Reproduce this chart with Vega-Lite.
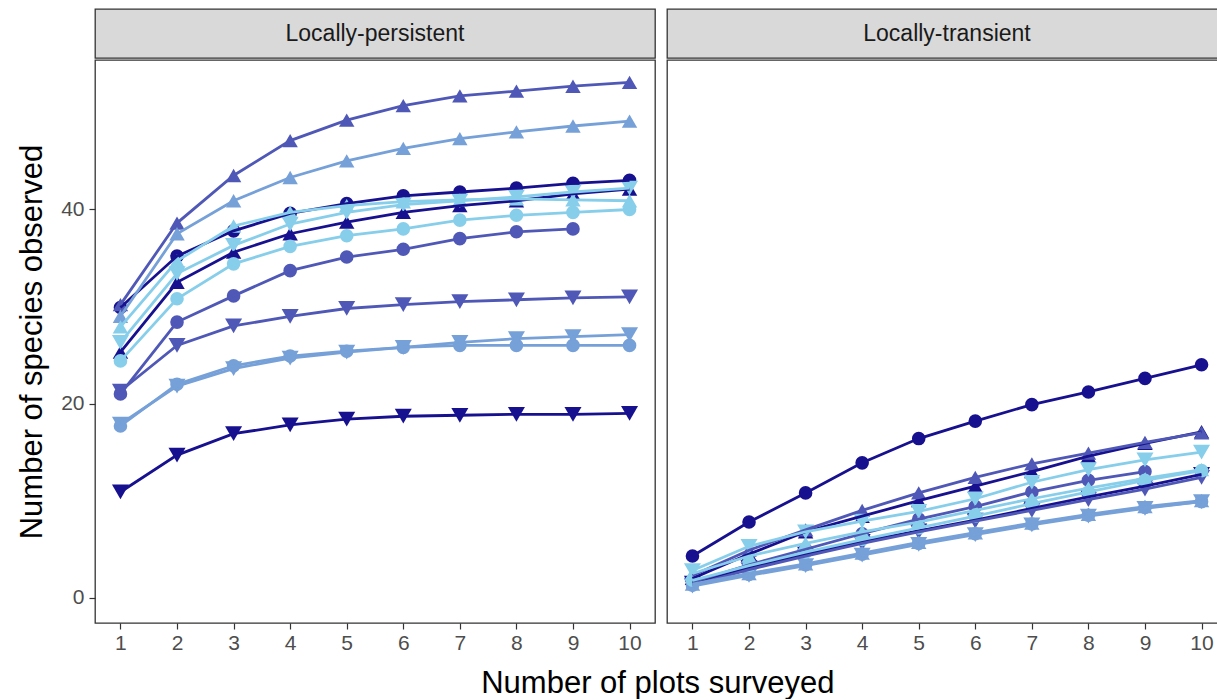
{
  "$schema": "https://vega.github.io/schema/vega-lite/v6.json",
  "padding": {"left": 15, "top": 8, "right": 0, "bottom": 0},
  "background": "white",
  "config": {
    "font": "Liberation Sans",
    "concat": {"spacing": 10},
    "axis": {"grid": false, "domain": false, "tickColor": "#333333", "tickSize": 6, "tickWidth": 1.2, "labelColor": "#4d4d4d", "labelFontSize": 21, "labelPadding": 5, "titleFontWeight": "normal", "titleColor": "black", "titleFontSize": 31},
    "axisX": {"labelPadding": 3}
  },
  "title": {"text": "Number of plots surveyed", "orient": "bottom", "anchor": "middle", "fontSize": 31, "fontWeight": "normal", "color": "black", "offset": 15, "dx": 36},
  "data": {"values": [
    {"p":"P","g":"NC","c":"N","s":"circle","x":1,"y":29.9},{"p":"P","g":"NC","c":"N","s":"circle","x":2,"y":35.2},{"p":"P","g":"NC","c":"N","s":"circle","x":3,"y":37.8},{"p":"P","g":"NC","c":"N","s":"circle","x":4,"y":39.6},{"p":"P","g":"NC","c":"N","s":"circle","x":5,"y":40.6},{"p":"P","g":"NC","c":"N","s":"circle","x":6,"y":41.4},{"p":"P","g":"NC","c":"N","s":"circle","x":7,"y":41.8},{"p":"P","g":"NC","c":"N","s":"circle","x":8,"y":42.2},{"p":"P","g":"NC","c":"N","s":"circle","x":9,"y":42.7},{"p":"P","g":"NC","c":"N","s":"circle","x":10,"y":43.0},
    {"p":"P","g":"NU","c":"N","s":"up","x":1,"y":25.3},{"p":"P","g":"NU","c":"N","s":"up","x":2,"y":32.5},{"p":"P","g":"NU","c":"N","s":"up","x":3,"y":35.6},{"p":"P","g":"NU","c":"N","s":"up","x":4,"y":37.5},{"p":"P","g":"NU","c":"N","s":"up","x":5,"y":38.7},{"p":"P","g":"NU","c":"N","s":"up","x":6,"y":39.7},{"p":"P","g":"NU","c":"N","s":"up","x":7,"y":40.4},{"p":"P","g":"NU","c":"N","s":"up","x":8,"y":40.9},{"p":"P","g":"NU","c":"N","s":"up","x":9,"y":41.6},{"p":"P","g":"NU","c":"N","s":"up","x":10,"y":42.1},
    {"p":"P","g":"ND","c":"N","s":"down","x":1,"y":10.9},{"p":"P","g":"ND","c":"N","s":"down","x":2,"y":14.7},{"p":"P","g":"ND","c":"N","s":"down","x":3,"y":16.9},{"p":"P","g":"ND","c":"N","s":"down","x":4,"y":17.8},{"p":"P","g":"ND","c":"N","s":"down","x":5,"y":18.4},{"p":"P","g":"ND","c":"N","s":"down","x":6,"y":18.7},{"p":"P","g":"ND","c":"N","s":"down","x":7,"y":18.8},{"p":"P","g":"ND","c":"N","s":"down","x":8,"y":18.9},{"p":"P","g":"ND","c":"N","s":"down","x":9,"y":18.9},{"p":"P","g":"ND","c":"N","s":"down","x":10,"y":19.0},
    {"p":"P","g":"MC","c":"M","s":"circle","x":1,"y":21.0},{"p":"P","g":"MC","c":"M","s":"circle","x":2,"y":28.4},{"p":"P","g":"MC","c":"M","s":"circle","x":3,"y":31.1},{"p":"P","g":"MC","c":"M","s":"circle","x":4,"y":33.7},{"p":"P","g":"MC","c":"M","s":"circle","x":5,"y":35.1},{"p":"P","g":"MC","c":"M","s":"circle","x":6,"y":35.9},{"p":"P","g":"MC","c":"M","s":"circle","x":7,"y":37.0},{"p":"P","g":"MC","c":"M","s":"circle","x":8,"y":37.7},{"p":"P","g":"MC","c":"M","s":"circle","x":9,"y":38.0},
    {"p":"P","g":"MU","c":"M","s":"up","x":1,"y":30.2},{"p":"P","g":"MU","c":"M","s":"up","x":2,"y":38.6},{"p":"P","g":"MU","c":"M","s":"up","x":3,"y":43.5},{"p":"P","g":"MU","c":"M","s":"up","x":4,"y":47.1},{"p":"P","g":"MU","c":"M","s":"up","x":5,"y":49.2},{"p":"P","g":"MU","c":"M","s":"up","x":6,"y":50.7},{"p":"P","g":"MU","c":"M","s":"up","x":7,"y":51.7},{"p":"P","g":"MU","c":"M","s":"up","x":8,"y":52.2},{"p":"P","g":"MU","c":"M","s":"up","x":9,"y":52.7},{"p":"P","g":"MU","c":"M","s":"up","x":10,"y":53.1},
    {"p":"P","g":"MD","c":"M","s":"down","x":1,"y":21.3},{"p":"P","g":"MD","c":"M","s":"down","x":2,"y":26.0},{"p":"P","g":"MD","c":"M","s":"down","x":3,"y":28.0},{"p":"P","g":"MD","c":"M","s":"down","x":4,"y":29.0},{"p":"P","g":"MD","c":"M","s":"down","x":5,"y":29.8},{"p":"P","g":"MD","c":"M","s":"down","x":6,"y":30.2},{"p":"P","g":"MD","c":"M","s":"down","x":7,"y":30.5},{"p":"P","g":"MD","c":"M","s":"down","x":8,"y":30.7},{"p":"P","g":"MD","c":"M","s":"down","x":9,"y":30.9},{"p":"P","g":"MD","c":"M","s":"down","x":10,"y":31.0},
    {"p":"P","g":"LC","c":"L","s":"circle","x":1,"y":17.7},{"p":"P","g":"LC","c":"L","s":"circle","x":2,"y":22.0},{"p":"P","g":"LC","c":"L","s":"circle","x":3,"y":23.9},{"p":"P","g":"LC","c":"L","s":"circle","x":4,"y":24.9},{"p":"P","g":"LC","c":"L","s":"circle","x":5,"y":25.4},{"p":"P","g":"LC","c":"L","s":"circle","x":6,"y":25.8},{"p":"P","g":"LC","c":"L","s":"circle","x":7,"y":26.0},{"p":"P","g":"LC","c":"L","s":"circle","x":8,"y":26.0},{"p":"P","g":"LC","c":"L","s":"circle","x":9,"y":26.0},{"p":"P","g":"LC","c":"L","s":"circle","x":10,"y":26.0},
    {"p":"P","g":"LU","c":"L","s":"up","x":1,"y":29.0},{"p":"P","g":"LU","c":"L","s":"up","x":2,"y":37.5},{"p":"P","g":"LU","c":"L","s":"up","x":3,"y":40.9},{"p":"P","g":"LU","c":"L","s":"up","x":4,"y":43.3},{"p":"P","g":"LU","c":"L","s":"up","x":5,"y":45.0},{"p":"P","g":"LU","c":"L","s":"up","x":6,"y":46.3},{"p":"P","g":"LU","c":"L","s":"up","x":7,"y":47.3},{"p":"P","g":"LU","c":"L","s":"up","x":8,"y":48.0},{"p":"P","g":"LU","c":"L","s":"up","x":9,"y":48.6},{"p":"P","g":"LU","c":"L","s":"up","x":10,"y":49.1},
    {"p":"P","g":"LD","c":"L","s":"down","x":1,"y":17.9},{"p":"P","g":"LD","c":"L","s":"down","x":2,"y":21.8},{"p":"P","g":"LD","c":"L","s":"down","x":3,"y":23.6},{"p":"P","g":"LD","c":"L","s":"down","x":4,"y":24.7},{"p":"P","g":"LD","c":"L","s":"down","x":5,"y":25.3},{"p":"P","g":"LD","c":"L","s":"down","x":6,"y":25.8},{"p":"P","g":"LD","c":"L","s":"down","x":7,"y":26.3},{"p":"P","g":"LD","c":"L","s":"down","x":8,"y":26.7},{"p":"P","g":"LD","c":"L","s":"down","x":9,"y":26.9},{"p":"P","g":"LD","c":"L","s":"down","x":10,"y":27.1},
    {"p":"P","g":"SC","c":"S","s":"circle","x":1,"y":24.4},{"p":"P","g":"SC","c":"S","s":"circle","x":2,"y":30.8},{"p":"P","g":"SC","c":"S","s":"circle","x":3,"y":34.4},{"p":"P","g":"SC","c":"S","s":"circle","x":4,"y":36.2},{"p":"P","g":"SC","c":"S","s":"circle","x":5,"y":37.3},{"p":"P","g":"SC","c":"S","s":"circle","x":6,"y":38.0},{"p":"P","g":"SC","c":"S","s":"circle","x":7,"y":38.9},{"p":"P","g":"SC","c":"S","s":"circle","x":8,"y":39.4},{"p":"P","g":"SC","c":"S","s":"circle","x":9,"y":39.7},{"p":"P","g":"SC","c":"S","s":"circle","x":10,"y":40.0},
    {"p":"P","g":"SU","c":"S","s":"up","x":1,"y":27.9},{"p":"P","g":"SU","c":"S","s":"up","x":2,"y":34.7},{"p":"P","g":"SU","c":"S","s":"up","x":3,"y":38.3},{"p":"P","g":"SU","c":"S","s":"up","x":4,"y":39.7},{"p":"P","g":"SU","c":"S","s":"up","x":5,"y":40.4},{"p":"P","g":"SU","c":"S","s":"up","x":6,"y":40.8},{"p":"P","g":"SU","c":"S","s":"up","x":7,"y":41.0},{"p":"P","g":"SU","c":"S","s":"up","x":8,"y":41.1},{"p":"P","g":"SU","c":"S","s":"up","x":9,"y":41.0},{"p":"P","g":"SU","c":"S","s":"up","x":10,"y":40.9},
    {"p":"P","g":"SD","c":"S","s":"down","x":1,"y":26.3},{"p":"P","g":"SD","c":"S","s":"down","x":2,"y":33.4},{"p":"P","g":"SD","c":"S","s":"down","x":3,"y":36.3},{"p":"P","g":"SD","c":"S","s":"down","x":4,"y":38.5},{"p":"P","g":"SD","c":"S","s":"down","x":5,"y":39.7},{"p":"P","g":"SD","c":"S","s":"down","x":6,"y":40.5},{"p":"P","g":"SD","c":"S","s":"down","x":7,"y":40.9},{"p":"P","g":"SD","c":"S","s":"down","x":8,"y":41.3},{"p":"P","g":"SD","c":"S","s":"down","x":9,"y":41.8},{"p":"P","g":"SD","c":"S","s":"down","x":10,"y":42.2},
    {"p":"T","g":"NC","c":"N","s":"circle","x":1,"y":4.3},{"p":"T","g":"NC","c":"N","s":"circle","x":2,"y":7.8},{"p":"T","g":"NC","c":"N","s":"circle","x":3,"y":10.8},{"p":"T","g":"NC","c":"N","s":"circle","x":4,"y":13.9},{"p":"T","g":"NC","c":"N","s":"circle","x":5,"y":16.4},{"p":"T","g":"NC","c":"N","s":"circle","x":6,"y":18.2},{"p":"T","g":"NC","c":"N","s":"circle","x":7,"y":19.9},{"p":"T","g":"NC","c":"N","s":"circle","x":8,"y":21.2},{"p":"T","g":"NC","c":"N","s":"circle","x":9,"y":22.6},{"p":"T","g":"NC","c":"N","s":"circle","x":10,"y":24.0},
    {"p":"T","g":"NU","c":"N","s":"up","x":1,"y":2.0},{"p":"T","g":"NU","c":"N","s":"up","x":2,"y":4.5},{"p":"T","g":"NU","c":"N","s":"up","x":3,"y":6.8},{"p":"T","g":"NU","c":"N","s":"up","x":4,"y":8.4},{"p":"T","g":"NU","c":"N","s":"up","x":5,"y":10.0},{"p":"T","g":"NU","c":"N","s":"up","x":6,"y":11.5},{"p":"T","g":"NU","c":"N","s":"up","x":7,"y":13.0},{"p":"T","g":"NU","c":"N","s":"up","x":8,"y":14.6},{"p":"T","g":"NU","c":"N","s":"up","x":9,"y":15.9},{"p":"T","g":"NU","c":"N","s":"up","x":10,"y":17.1},
    {"p":"T","g":"ND","c":"N","s":"down","x":1,"y":1.5},{"p":"T","g":"ND","c":"N","s":"down","x":2,"y":3.1},{"p":"T","g":"ND","c":"N","s":"down","x":3,"y":4.5},{"p":"T","g":"ND","c":"N","s":"down","x":4,"y":5.8},{"p":"T","g":"ND","c":"N","s":"down","x":5,"y":6.9},{"p":"T","g":"ND","c":"N","s":"down","x":6,"y":8.0},{"p":"T","g":"ND","c":"N","s":"down","x":7,"y":9.2},{"p":"T","g":"ND","c":"N","s":"down","x":8,"y":10.4},{"p":"T","g":"ND","c":"N","s":"down","x":9,"y":11.5},{"p":"T","g":"ND","c":"N","s":"down","x":10,"y":12.7},
    {"p":"T","g":"MC","c":"M","s":"circle","x":1,"y":1.6},{"p":"T","g":"MC","c":"M","s":"circle","x":2,"y":3.4},{"p":"T","g":"MC","c":"M","s":"circle","x":3,"y":5.0},{"p":"T","g":"MC","c":"M","s":"circle","x":4,"y":6.6},{"p":"T","g":"MC","c":"M","s":"circle","x":5,"y":8.1},{"p":"T","g":"MC","c":"M","s":"circle","x":6,"y":9.4},{"p":"T","g":"MC","c":"M","s":"circle","x":7,"y":10.9},{"p":"T","g":"MC","c":"M","s":"circle","x":8,"y":12.1},{"p":"T","g":"MC","c":"M","s":"circle","x":9,"y":13.0},
    {"p":"T","g":"MU","c":"M","s":"up","x":1,"y":2.3},{"p":"T","g":"MU","c":"M","s":"up","x":2,"y":4.9},{"p":"T","g":"MU","c":"M","s":"up","x":3,"y":7.0},{"p":"T","g":"MU","c":"M","s":"up","x":4,"y":9.0},{"p":"T","g":"MU","c":"M","s":"up","x":5,"y":10.8},{"p":"T","g":"MU","c":"M","s":"up","x":6,"y":12.4},{"p":"T","g":"MU","c":"M","s":"up","x":7,"y":13.8},{"p":"T","g":"MU","c":"M","s":"up","x":8,"y":14.9},{"p":"T","g":"MU","c":"M","s":"up","x":9,"y":16.0},{"p":"T","g":"MU","c":"M","s":"up","x":10,"y":17.0},
    {"p":"T","g":"MD","c":"M","s":"down","x":1,"y":1.3},{"p":"T","g":"MD","c":"M","s":"down","x":2,"y":2.9},{"p":"T","g":"MD","c":"M","s":"down","x":3,"y":4.3},{"p":"T","g":"MD","c":"M","s":"down","x":4,"y":5.6},{"p":"T","g":"MD","c":"M","s":"down","x":5,"y":6.8},{"p":"T","g":"MD","c":"M","s":"down","x":6,"y":7.9},{"p":"T","g":"MD","c":"M","s":"down","x":7,"y":9.0},{"p":"T","g":"MD","c":"M","s":"down","x":8,"y":10.1},{"p":"T","g":"MD","c":"M","s":"down","x":9,"y":11.2},{"p":"T","g":"MD","c":"M","s":"down","x":10,"y":12.4},
    {"p":"T","g":"LC","c":"L","s":"circle","x":1,"y":1.3},{"p":"T","g":"LC","c":"L","s":"circle","x":2,"y":2.4},{"p":"T","g":"LC","c":"L","s":"circle","x":3,"y":3.4},{"p":"T","g":"LC","c":"L","s":"circle","x":4,"y":4.5},{"p":"T","g":"LC","c":"L","s":"circle","x":5,"y":5.6},{"p":"T","g":"LC","c":"L","s":"circle","x":6,"y":6.6},{"p":"T","g":"LC","c":"L","s":"circle","x":7,"y":7.6},{"p":"T","g":"LC","c":"L","s":"circle","x":8,"y":8.5},{"p":"T","g":"LC","c":"L","s":"circle","x":9,"y":9.3},{"p":"T","g":"LC","c":"L","s":"circle","x":10,"y":9.9},
    {"p":"T","g":"LU","c":"L","s":"up","x":1,"y":1.4},{"p":"T","g":"LU","c":"L","s":"up","x":2,"y":2.5},{"p":"T","g":"LU","c":"L","s":"up","x":3,"y":3.5},{"p":"T","g":"LU","c":"L","s":"up","x":4,"y":4.6},{"p":"T","g":"LU","c":"L","s":"up","x":5,"y":5.7},{"p":"T","g":"LU","c":"L","s":"up","x":6,"y":6.7},{"p":"T","g":"LU","c":"L","s":"up","x":7,"y":7.7},{"p":"T","g":"LU","c":"L","s":"up","x":8,"y":8.6},{"p":"T","g":"LU","c":"L","s":"up","x":9,"y":9.4},{"p":"T","g":"LU","c":"L","s":"up","x":10,"y":10.0},
    {"p":"T","g":"LD","c":"L","s":"down","x":1,"y":1.2},{"p":"T","g":"LD","c":"L","s":"down","x":2,"y":2.3},{"p":"T","g":"LD","c":"L","s":"down","x":3,"y":3.3},{"p":"T","g":"LD","c":"L","s":"down","x":4,"y":4.4},{"p":"T","g":"LD","c":"L","s":"down","x":5,"y":5.5},{"p":"T","g":"LD","c":"L","s":"down","x":6,"y":6.5},{"p":"T","g":"LD","c":"L","s":"down","x":7,"y":7.5},{"p":"T","g":"LD","c":"L","s":"down","x":8,"y":8.4},{"p":"T","g":"LD","c":"L","s":"down","x":9,"y":9.2},{"p":"T","g":"LD","c":"L","s":"down","x":10,"y":9.9},
    {"p":"T","g":"SC","c":"S","s":"circle","x":1,"y":1.8},{"p":"T","g":"SC","c":"S","s":"circle","x":2,"y":3.3},{"p":"T","g":"SC","c":"S","s":"circle","x":3,"y":4.7},{"p":"T","g":"SC","c":"S","s":"circle","x":4,"y":6.0},{"p":"T","g":"SC","c":"S","s":"circle","x":5,"y":7.2},{"p":"T","g":"SC","c":"S","s":"circle","x":6,"y":8.4},{"p":"T","g":"SC","c":"S","s":"circle","x":7,"y":9.7},{"p":"T","g":"SC","c":"S","s":"circle","x":8,"y":10.9},{"p":"T","g":"SC","c":"S","s":"circle","x":9,"y":12.1},{"p":"T","g":"SC","c":"S","s":"circle","x":10,"y":13.1},
    {"p":"T","g":"SU","c":"S","s":"up","x":1,"y":2.5},{"p":"T","g":"SU","c":"S","s":"up","x":2,"y":4.3},{"p":"T","g":"SU","c":"S","s":"up","x":3,"y":5.6},{"p":"T","g":"SU","c":"S","s":"up","x":4,"y":6.8},{"p":"T","g":"SU","c":"S","s":"up","x":5,"y":7.8},{"p":"T","g":"SU","c":"S","s":"up","x":6,"y":9.0},{"p":"T","g":"SU","c":"S","s":"up","x":7,"y":10.2},{"p":"T","g":"SU","c":"S","s":"up","x":8,"y":11.3},{"p":"T","g":"SU","c":"S","s":"up","x":9,"y":12.3},{"p":"T","g":"SU","c":"S","s":"up","x":10,"y":13.2},
    {"p":"T","g":"SD","c":"S","s":"down","x":1,"y":2.8},{"p":"T","g":"SD","c":"S","s":"down","x":2,"y":5.3},{"p":"T","g":"SD","c":"S","s":"down","x":3,"y":6.8},{"p":"T","g":"SD","c":"S","s":"down","x":4,"y":7.9},{"p":"T","g":"SD","c":"S","s":"down","x":5,"y":8.9},{"p":"T","g":"SD","c":"S","s":"down","x":6,"y":10.2},{"p":"T","g":"SD","c":"S","s":"down","x":7,"y":11.9},{"p":"T","g":"SD","c":"S","s":"down","x":8,"y":13.2},{"p":"T","g":"SD","c":"S","s":"down","x":9,"y":14.2},{"p":"T","g":"SD","c":"S","s":"down","x":10,"y":15.0}
  ]},
  "hconcat": [
    {
      "vconcat": [
        {
          "width": 560, "height": 49,
          "view": {"fill": "#d9d9d9", "stroke": "#333333", "strokeWidth": 1.3},
          "data": {"values": [{"t": "Locally-persistent"}]},
          "mark": {"type": "text", "fontSize": 23, "color": "#1a1a1a", "baseline": "middle", "align": "center"},
          "encoding": {"text": {"field": "t"}}
        },
        {
          "width": 560, "height": 563,
          "view": {"stroke": "#333333", "strokeWidth": 1.3},
          "transform": [{"filter": "datum.p === 'P'"}],
          "encoding": {
            "x": {"field": "x", "type": "quantitative", "scale": {"domain": [0.55, 10.45], "nice": false, "zero": false}, "axis": {"values": [1,2,3,4,5,6,7,8,9,10], "title": null}},
            "y": {"field": "y", "type": "quantitative", "scale": {"domain": [-2.6, 55.4], "nice": false, "zero": false}, "axis": {"values": [0, 20, 40], "title": "Number of species observed", "titlePadding": 12}},
            "color": {"field": "c", "type": "nominal", "scale": {"domain": ["N", "M", "L", "S"], "range": ["#17118f", "#4f58b6", "#76a0d8", "#87ceeb"]}, "legend": null}
          },
          "layer": [
            {"mark": {"type": "point", "filled": true, "opacity": 1, "strokeWidth": 0},
             "encoding": {
               "shape": {"field": "s", "type": "nominal", "scale": {"domain": ["circle", "up", "down"], "range": ["circle", "triangle-up", "triangle-down"]}, "legend": null},
               "size": {"field": "s", "type": "nominal", "scale": {"domain": ["circle", "up", "down"], "range": [185, 290, 290]}, "legend": null}
             }},
            {"mark": {"type": "line", "strokeWidth": 2.8}, "encoding": {"detail": {"field": "g"}}}
          ]
        }
      ],
      "spacing": 0
    },
    {
      "vconcat": [
        {
          "width": 560, "height": 49,
          "view": {"fill": "#d9d9d9", "stroke": "#333333", "strokeWidth": 1.3},
          "data": {"values": [{"t": "Locally-transient"}]},
          "mark": {"type": "text", "fontSize": 23, "color": "#1a1a1a", "baseline": "middle", "align": "center"},
          "encoding": {"text": {"field": "t"}}
        },
        {
          "width": 560, "height": 563,
          "view": {"stroke": "#333333", "strokeWidth": 1.3},
          "transform": [{"filter": "datum.p === 'T'"}],
          "encoding": {
            "x": {"field": "x", "type": "quantitative", "scale": {"domain": [0.55, 10.45], "nice": false, "zero": false}, "axis": {"values": [1,2,3,4,5,6,7,8,9,10], "title": null}},
            "y": {"field": "y", "type": "quantitative", "scale": {"domain": [-2.6, 55.4], "nice": false, "zero": false}, "axis": null},
            "color": {"field": "c", "type": "nominal", "scale": {"domain": ["N", "M", "L", "S"], "range": ["#17118f", "#4f58b6", "#76a0d8", "#87ceeb"]}, "legend": null}
          },
          "layer": [
            {"mark": {"type": "point", "filled": true, "opacity": 1, "strokeWidth": 0},
             "encoding": {
               "shape": {"field": "s", "type": "nominal", "scale": {"domain": ["circle", "up", "down"], "range": ["circle", "triangle-up", "triangle-down"]}, "legend": null},
               "size": {"field": "s", "type": "nominal", "scale": {"domain": ["circle", "up", "down"], "range": [185, 290, 290]}, "legend": null}
             }},
            {"mark": {"type": "line", "strokeWidth": 2.8}, "encoding": {"detail": {"field": "g"}}}
          ]
        }
      ],
      "spacing": 0
    }
  ]
}
